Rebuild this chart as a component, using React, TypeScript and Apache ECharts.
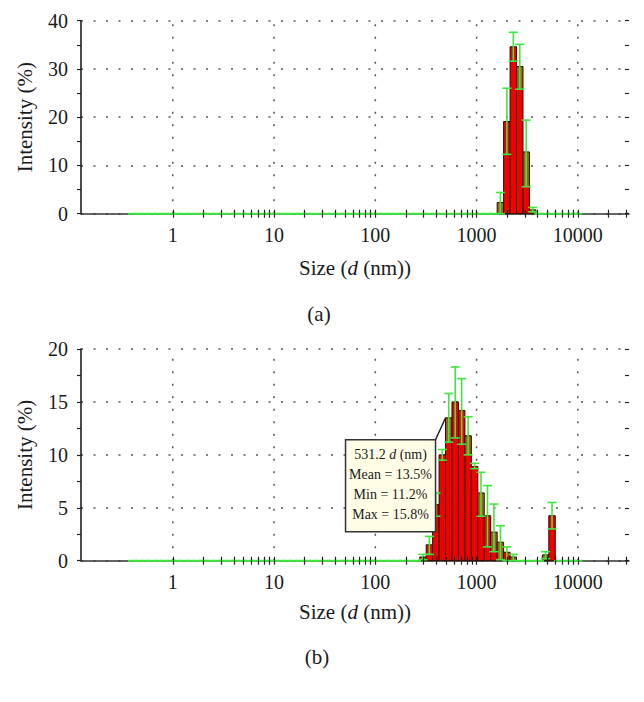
import React, { useEffect, useRef } from 'react';
import * as echarts from 'echarts';

// Zetasizer size classes (nm)
const BIN_SIZES = [
  0.4, 0.4632, 0.5365, 0.6213, 0.7195, 0.8332, 0.9649, 1.117, 1.294, 1.499,
  1.736, 2.01, 2.328, 2.696, 3.122, 3.615, 4.187, 4.849, 5.615, 6.503,
  7.531, 8.721, 10.1, 11.7, 13.54, 15.69, 18.17, 21.04, 24.36, 28.21,
  32.67, 37.84, 43.82, 50.75, 58.77, 68.06, 78.82, 91.28, 105.7, 122.4,
  141.8, 164.2, 190.1, 220.2, 255, 295.3, 342, 396.1, 458.7, 531.2,
  615.1, 712.4, 825, 955.4, 1106, 1281, 1484, 1718, 1990, 2305,
  2669, 3091, 3580, 4145, 4801, 5560, 6439, 7456, 8635, 10000,
];

const X_LABELS = [1, 10, 100, 1000, 10000];
const X_TICKS = [
  1, 2, 3, 4, 5, 6, 7, 8, 9,
  10, 20, 30, 40, 50, 60, 70, 80, 90,
  100, 200, 300, 400, 500, 600, 700, 800, 900,
  1000, 2000, 3000, 4000, 5000, 6000, 7000, 8000, 9000,
  10000, 20000, 30000,
];

// (a)
const A_SIZES = [1718, 1990, 2305, 2669, 3091, 3580];
const A_MEAN = [2.3, 19.1, 34.6, 30.5, 12.8, 0.8];
const A_MIN = [0, 12.3, 31.6, 25.8, 5.6, 0.4];
const A_MAX = [4.4, 26.0, 37.6, 35.1, 19.4, 1.3];
const A_BROWN_FROM = [0, null, null, 25.8, 5.6, 0];

// (b)
const B_SIZES = [295.3, 342, 396.1, 458.7, 531.2, 615.1, 712.4, 825, 955.4, 1106, 1281, 1484, 1718, 1990, 2305, 4801, 5560];
const B_MEAN = [0.35, 1.5, 5.3, 10.0, 13.5, 15.0, 14.2, 11.8, 8.9, 6.4, 4.25, 2.7, 1.75, 0.8, 0.35, 0.55, 4.25];
const B_MIN = [0.1, 0.6, 4.2, 9.5, 11.2, 11.6, 11.0, 10.0, 8.7, 4.2, 1.3, 0.85, 0.1, 0, 0, 0.2, 3.0];
const B_MAX = [0.6, 2.3, 6.4, 10.5, 15.8, 18.3, 17.2, 13.6, 9.2, 8.35, 7.1, 5.35, 3.3, 1.3, 0.6, 0.85, 5.5];
const B_BROWN_FROM = [0, null, null, null, 11.2, null, null, 10.0, null, 4.2, null, 0.85, 0, null, 0, 0, null];

const ANNOTATED_SIZE = 531.2;

const Y_MAX = [40, 20];
const Y_INTERVAL = [10, 5];

const FONT = "'Liberation Serif', 'DejaVu Serif', serif";
const TEXT = '#1a1a1a';
const RED = '#f20000';
const BROWN = '#a0621a';
const OUTLINE = '#2b0b00';
const GREEN = '#3ee83e';
const GRIDC = '#555555';

const STEP = Math.pow(BIN_SIZES[BIN_SIZES.length - 1] / BIN_SIZES[0], 1 / (BIN_SIZES.length - 1));
const HALF = Math.sqrt(STEP);
const CAP = Math.pow(STEP, 0.7);

function buildData(sizes: number[], mean: number[], mn: number[], mx: number[], brown: (number | null)[]) {
  return BIN_SIZES.map((s) => {
    const i = sizes.indexOf(s);
    if (i < 0) return [s, 0, 0, 0, -1];
    return [s, mean[i], mn[i], mx[i], brown[i] == null ? -1 : (brown[i] as number)];
  });
}

function renderBar(params: any, api: any) {
  const size = api.value(0);
  const mean = api.value(1);
  const brown = api.value(4);
  if (!(mean > 0)) return null;
  const lo = api.coord([size / HALF, 0]);
  const hi = api.coord([size * HALF, mean]);
  const x = lo[0];
  const w = hi[0] - lo[0];
  const yTop = hi[1];
  const yBase = lo[1];
  const split = brown >= 0 ? api.coord([size, brown])[1] : yTop;
  const children: any[] = [];
  if (yBase - split > 0) {
    children.push({ type: 'rect', shape: { x, y: split, width: w, height: yBase - split }, style: { fill: RED } });
  }
  if (brown >= 0 && split - yTop > 0) {
    children.push({ type: 'rect', shape: { x, y: yTop, width: w, height: split - yTop }, style: { fill: BROWN } });
  }
  children.push({
    type: 'rect',
    shape: { x, y: yTop, width: w, height: yBase - yTop },
    style: { fill: 'none', stroke: OUTLINE, lineWidth: 1 },
  });
  return { type: 'group', children };
}

function renderErr(params: any, api: any) {
  const size = api.value(0);
  const mn = api.value(2);
  const mx = api.value(3);
  const c = api.coord([size, 0])[0];
  const l = api.coord([size / CAP, 0])[0];
  const r = api.coord([size * CAP, 0])[0];
  const yMin = api.coord([size, mn])[1];
  const yMax = api.coord([size, mx])[1];
  const st = { stroke: GREEN, lineWidth: 1.6 };
  const children: any[] = [
    { type: 'line', shape: { x1: l, y1: yMin, x2: r, y2: yMin }, style: st },
    { type: 'line', shape: { x1: l, y1: yMax, x2: r, y2: yMax }, style: st },
  ];
  if (yMin - yMax > 0) {
    children.push({ type: 'line', shape: { x1: c, y1: yMin, x2: c, y2: yMax }, style: st });
  }
  return { type: 'group', children };
}

function renderGrid(params: any, api: any) {
  const cs = params.coordSys;
  const px = api.coord([api.value(0), 0])[0];
  return {
    type: 'line',
    shape: { x1: px, y1: cs.y + cs.height, x2: px, y2: cs.y },
    style: { stroke: GRIDC, lineWidth: 1.5, lineDash: [2, 10.5] },
  };
}

function renderNote(params: any, api: any) {
  const size = api.value(0);
  const mean = api.value(1);
  const mn = api.value(2);
  const mx = api.value(3);
  const a = api.coord([size / HALF, mean]);
  const cx = a[0] - 10;
  const cy = a[1] + 22;
  const bw = 90;
  const bh = 92;
  const bx = cx - bw;
  const by = cy;
  const fs = 14;
  const tstyle = (text: string) => ({
    text,
    fontFamily: FONT,
    fontSize: fs,
    fill: TEXT,
    align: 'center',
    verticalAlign: 'middle',
  });
  return {
    type: 'group',
    children: [
      { type: 'line', shape: { x1: a[0], y1: a[1], x2: cx, y2: cy }, style: { stroke: '#222', lineWidth: 1.5 } },
      { type: 'rect', shape: { x: bx, y: by, width: bw, height: bh }, style: { fill: '#fffde6', stroke: '#333', lineWidth: 1.5 } },
      {
        type: 'text', x: bx + bw / 2, y: by + 15,
        style: {
          text: `{n|${size} }{i|d}{n| (nm)}`,
          align: 'center', verticalAlign: 'middle', fill: TEXT,
          rich: {
            n: { fontFamily: FONT, fontSize: fs, fill: TEXT, color: TEXT },
            i: { fontFamily: FONT, fontSize: fs, fontStyle: 'italic', fill: TEXT, color: TEXT },
          },
        },
      },
      { type: 'text', x: bx + bw / 2, y: by + 35, style: tstyle(`Mean = ${mean.toFixed(1)}%`) },
      { type: 'text', x: bx + bw / 2, y: by + 55, style: tstyle(`Min = ${mn.toFixed(1)}%`) },
      { type: 'text', x: bx + bw / 2, y: by + 75, style: tstyle(`Max = ${mx.toFixed(1)}%`) },
    ],
  };
}

export default function App() {
  const ref = useRef<HTMLDivElement>(null);
  useEffect(() => {
    if (!ref.current) return;
    const chart = echarts.init(ref.current, undefined, { renderer: 'svg' });

    const grids = [
      { left: 81, top: 20.7, width: 548, height: 193 },
      { left: 81, top: 349, width: 548, height: 211.7 },
    ];
    const xMin = 0.124;
    const xMax = 32000;
    const tickLine = { color: '#222', width: 1.2 };

    const xAxis: any[] = [];
    const yAxis: any[] = [];
    grids.forEach((g, gi) => {
      // main axis: line, labels, name (below the series)
      xAxis.push({
        type: 'log', logBase: 10, gridIndex: gi, min: xMin, max: xMax, position: 'bottom', z: 0,
        axisLine: { show: true, onZero: false, lineStyle: { color: '#333', width: 1.5 } },
        axisTick: { show: false, customValues: X_TICKS },
        axisLabel: {
          customValues: X_LABELS, formatter: (v: number) => String(Math.round(v)),
          fontFamily: FONT, fontSize: 20, color: TEXT, margin: 11,
        },
        splitLine: { show: false },
        minorTick: { show: false },
        name: 'Size ({i|d} (nm))', nameLocation: 'middle', nameGap: gi === 0 ? 44 : 41,
        nameTextStyle: {
          fontFamily: FONT, fontSize: 21, color: TEXT,
          rich: { i: { fontFamily: FONT, fontSize: 21, fontStyle: 'italic', color: TEXT } },
        },
      });
      // crossing ticks, drawn above the series
      [false, true].forEach((inside) => {
        xAxis.push({
          type: 'log', logBase: 10, gridIndex: gi, min: xMin, max: xMax, position: 'bottom', z: 10,
          axisLine: { show: false, onZero: false },
          axisTick: { show: true, customValues: X_TICKS, length: 4, inside, lineStyle: tickLine },
          axisLabel: { show: false },
          splitLine: { show: false },
        });
      });
      yAxis.push({
        type: 'value', gridIndex: gi, min: 0, max: Y_MAX[gi], interval: Y_INTERVAL[gi],
        axisLine: { show: true, onZero: false, lineStyle: { color: '#111', width: 1.5 } },
        axisTick: { show: true, length: 4, inside: false, lineStyle: tickLine },
        minorTick: { show: true, splitNumber: 2, length: 4, lineStyle: tickLine },
        axisLabel: { fontFamily: FONT, fontSize: 20, color: TEXT, margin: 13 },
        splitLine: { show: true, lineStyle: { type: [2, 10.5], color: GRIDC, width: 1.5 } },
        name: 'Intensity (%)', nameLocation: 'middle', nameGap: 46,
        nameTextStyle: { fontFamily: FONT, fontSize: 21, color: TEXT },
      });
      yAxis.push({
        type: 'value', gridIndex: gi, min: 0, max: Y_MAX[gi], interval: Y_INTERVAL[gi],
        axisLine: { show: false, onZero: false },
        axisTick: { show: true, length: 4, inside: true, lineStyle: tickLine },
        minorTick: { show: true, splitNumber: 2, length: 4, lineStyle: tickLine },
        axisLabel: { show: false },
        splitLine: { show: false },
      });
    });

    const dataA = buildData(A_SIZES, A_MEAN, A_MIN, A_MAX, A_BROWN_FROM);
    const dataB = buildData(B_SIZES, B_MEAN, B_MIN, B_MAX, B_BROWN_FROM);
    const ni = B_SIZES.indexOf(ANNOTATED_SIZE);
    const noteData = [[ANNOTATED_SIZE, B_MEAN[ni], B_MIN[ni], B_MAX[ni]]];
    const gridData = X_LABELS.map((v) => [v, 0]);

    const series: any[] = [];
    [dataA, dataB].forEach((d, gi) => {
      const xi = gi * 3;
      const yi = gi * 2;
      series.push({
        type: 'custom', xAxisIndex: xi, yAxisIndex: yi, z: 1, silent: true,
        renderItem: renderGrid, data: gridData, clip: false,
      });
      series.push({
        type: 'custom', xAxisIndex: xi, yAxisIndex: yi, z: 2, silent: true,
        renderItem: renderBar, data: d,
      });
      series.push({
        type: 'custom', xAxisIndex: xi, yAxisIndex: yi, z: 3, silent: true,
        renderItem: renderErr, data: d, clip: false,
      });
    });
    series.push({
      type: 'custom', xAxisIndex: 3, yAxisIndex: 2, z: 12, silent: true,
      renderItem: renderNote, data: noteData, clip: false,
    });

    chart.setOption({
      animation: false,
      backgroundColor: '#ffffff',
      grid: grids,
      xAxis,
      yAxis,
      series,
      graphic: [
        { type: 'text', x: 319, y: 314, style: { text: '(a)', fontFamily: FONT, fontSize: 21, fill: TEXT, align: 'center', verticalAlign: 'middle' } },
        { type: 'text', x: 317, y: 657, style: { text: '(b)', fontFamily: FONT, fontSize: 21, fill: TEXT, align: 'center', verticalAlign: 'middle' } },
      ],
    });
    return () => chart.dispose();
  }, []);
  return (
    <div
      ref={ref}
      style={{ position: 'fixed', left: 0, top: 0, width: 644, height: 702, background: '#fff' }}
    />
  );
}
